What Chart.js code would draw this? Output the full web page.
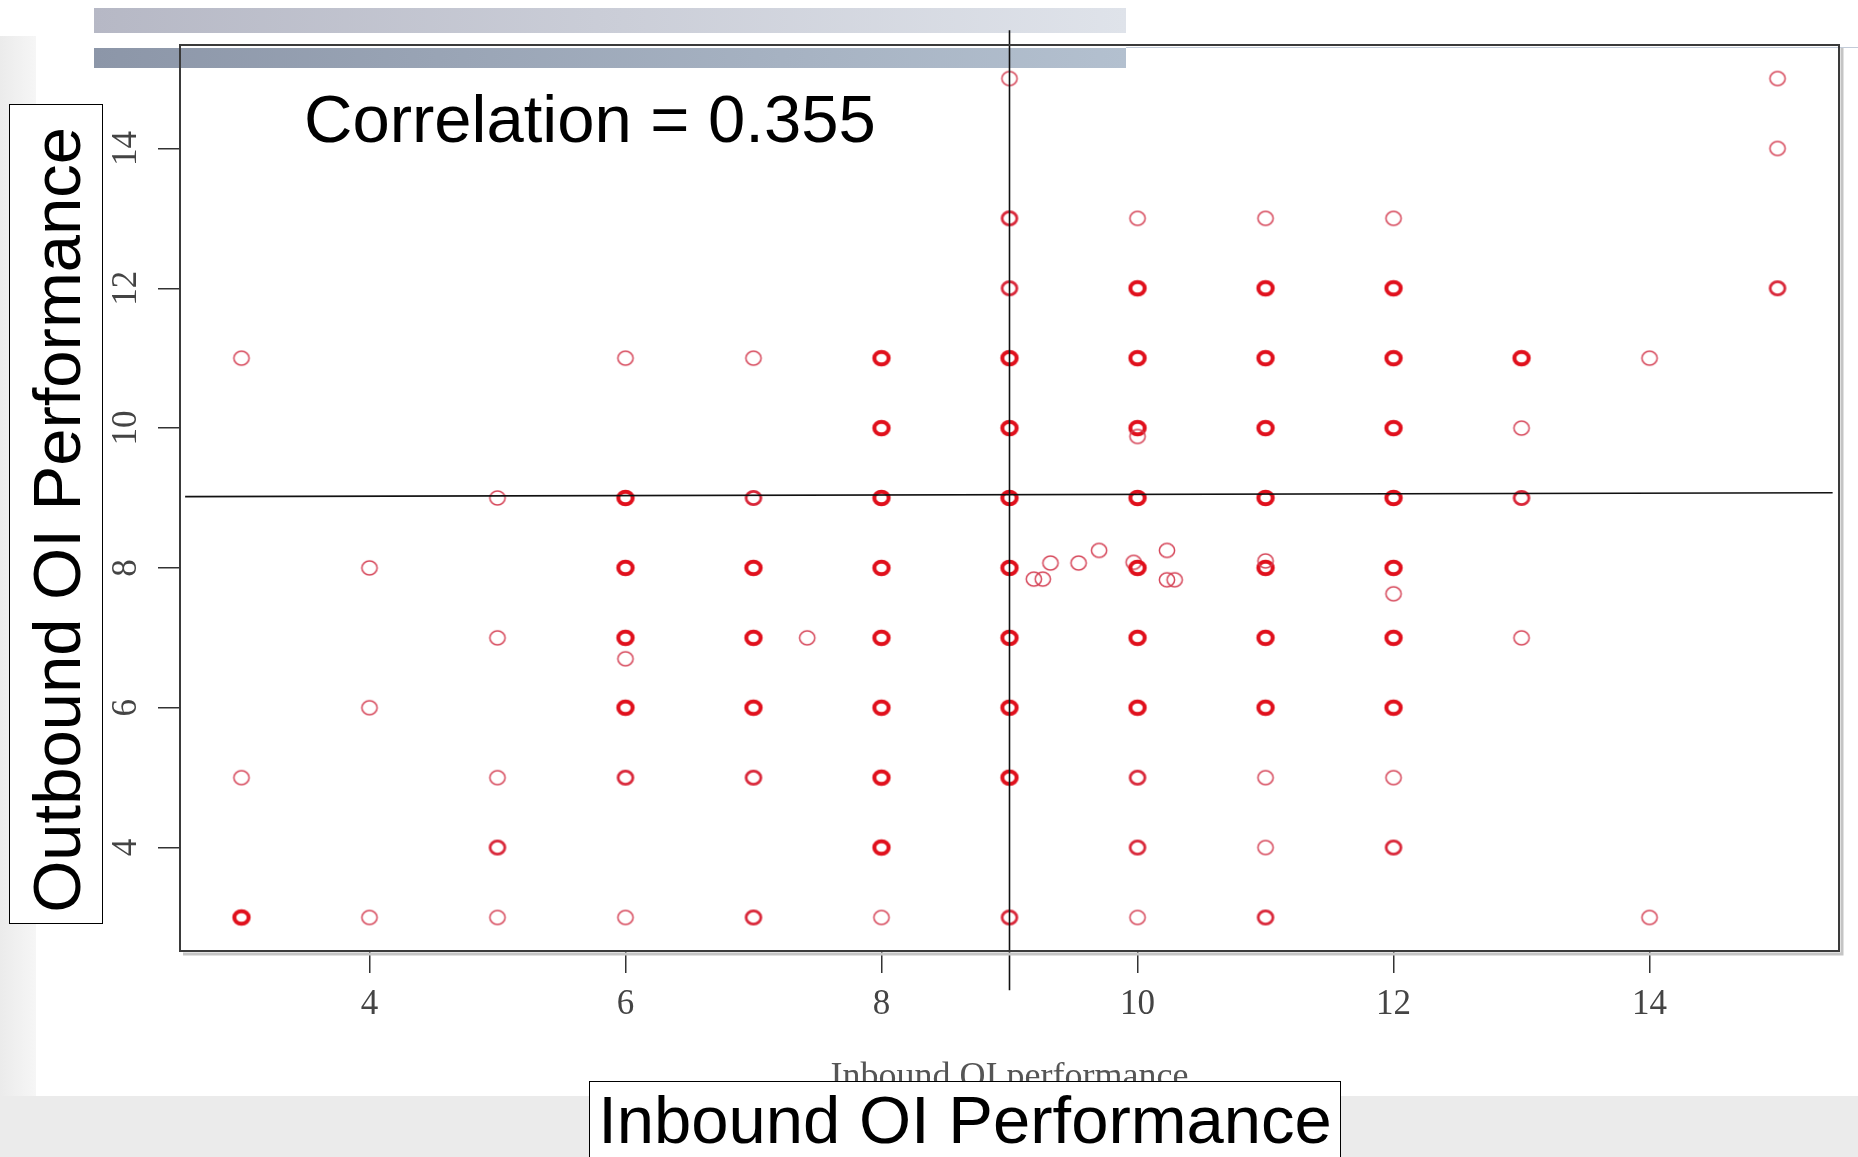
<!DOCTYPE html>
<html>
<head>
<meta charset="utf-8">
<title>Inbound vs Outbound OI Performance</title>
<script src="https://cdn.jsdelivr.net/npm/chart.js@4.4.1/dist/chart.umd.min.js"></script>
<style>
  html, body { margin: 0; padding: 0; }
  body {
    width: 1858px; height: 1157px; position: relative; overflow: hidden;
    background: #fff; font-family: "Liberation Sans", Arial, sans-serif;
  }
  .strip { position: absolute; left: 0; top: 36px; width: 36px; height: 1060px;
           background: linear-gradient(to right, #ebebeb, #f6f6f6); }
  .band  { position: absolute; left: 0; top: 1096px; width: 1858px; height: 61px; background: #ebebeb; }
  .bar1  { position: absolute; left: 94px; top: 8px; width: 1032px; height: 25px;
           background: linear-gradient(to right, #b6b8c5, #dfe3ea); }
  .bar2  { position: absolute; left: 94px; top: 48px; width: 1032px; height: 20px;
           background: linear-gradient(to right, #8c96a8, #b3c0cf); }
  .rule  { position: absolute; left: 1126px; top: 47px; width: 732px; height: 1px; background: #c2cbd8; }
  #wrap  { position: absolute; left: 0; top: 0; width: 1858px; height: 1157px; }
  .ylab  { position: absolute; left: 9px; top: 104px; width: 94px; height: 820px;
           border: 1px solid #000; background: #fff; box-sizing: border-box;
           display: flex; align-items: center; justify-content: center; padding-top: 12px; }
  .ylab span { writing-mode: vertical-rl; transform: rotate(180deg);
               font-size: 67px; line-height: 67px; white-space: nowrap; }
  .xlab  { position: absolute; left: 589px; top: 1081px; width: 752px; height: 110px;
           border: 1px solid #000; background: #fff; box-sizing: border-box;
           text-align: center; font-size: 67px; line-height: 67px; padding-top: 4px; white-space: nowrap; }
  .corr  { position: absolute; left: 304px; top: 85px; font-size: 67px; line-height: 67px; white-space: nowrap; }
</style>
</head>
<body>
<div class="strip"></div>
<div class="band"></div>
<div class="bar1"></div>
<div class="bar2"></div>
<div class="rule"></div>
<div id="wrap"><canvas id="scatterChart"></canvas></div>
<div class="corr">Correlation = 0.355</div>
<div class="ylab"><span>Outbound OI Performance</span></div>
<div class="xlab">Inbound OI Performance</div>

<script>
// scores (x = inbound, y = outbound)
// overlap: 1 = single point, 2 = a few, 3 = many points on the same spot
const inbound = [
  3, 3, 3,
  4, 4, 4,
  5, 5, 5, 5, 5,
  6, 6, 6, 6, 6, 6, 6, 6,
  7, 7, 7, 7, 7, 7, 7, 7.42,
  8, 8, 8, 8, 8, 8, 8, 8, 8,
  9, 9, 9, 9, 9, 9, 9, 9, 9, 9, 9,
  9.19, 9.26, 9.32, 9.54, 9.70, 9.97, 10.23, 10.23, 10.29,
  10, 10, 10, 10, 10, 10, 10, 10, 10, 10, 10, 10,
  11, 11, 11, 11, 11, 11, 11, 11, 11, 11, 11, 11,
  12, 12, 12, 12, 12, 12, 12, 12, 12, 12, 12,
  13, 13, 13, 13,
  14, 14,
  15, 15, 15
];
const outbound = [
  11, 5, 3,
  8, 6, 3,
  9, 7, 5, 4, 3,
  11, 9, 8, 7, 6.7, 6, 5, 3,
  11, 9, 8, 7, 6, 5, 3, 7,
  11, 10, 9, 8, 7, 6, 5, 4, 3,
  15, 13, 12, 11, 10, 9, 8, 7, 6, 5, 3,
  7.84, 7.84, 8.07, 8.07, 8.25, 8.08, 8.25, 7.83, 7.83,
  13, 12, 11, 10, 9.88, 9, 8, 7, 6, 5, 4, 3,
  13, 12, 11, 10, 9, 8, 8.1, 7, 6, 5, 4, 3,
  13, 12, 11, 10, 9, 8, 7.63, 7, 6, 5, 4,
  11, 10, 9, 7,
  11, 3,
  15, 14, 12
];
const overlap = [
  1, 1, 3,
  1, 1, 1,
  1, 1, 1, 2, 1,
  1, 3, 3, 3, 1, 3, 2, 1,
  1, 2, 3, 3, 3, 2, 2, 1,
  3, 3, 3, 3, 3, 3, 3, 3, 1,
  1, 2, 2, 3, 3, 3, 3, 3, 3, 3, 2,
  1, 1, 1, 1, 1, 1, 1, 1, 1,
  1, 3, 3, 3, 1, 3, 3, 3, 3, 2, 2, 1,
  1, 3, 3, 3, 3, 3, 1, 3, 3, 1, 1, 2,
  1, 3, 3, 3, 3, 3, 1, 3, 3, 1, 2,
  3, 1, 2, 1,
  1, 1,
  1, 1, 2
];

// mean lines (vertical at inbound 9, near-horizontal at outbound ~9.05)
const vLineX = [9, 9];
const vLineY = [1.96, 15.69];
const hLineX = [2.56, 15.43];
const hLineY = [9.02, 9.075];

const xTicks = [4, 6, 8, 10, 12, 14];
const yTicks = [4, 6, 8, 10, 12, 14];
const axisMin = 2.52;
const axisMax = 15.48;

// R style open rings, slightly wider than tall like the pasted plot
function makeRing(lw, color, rx, ry) {
  const c = document.createElement("canvas");
  c.width = 24; c.height = 22;
  const g = c.getContext("2d");
  g.strokeStyle = color;
  g.lineWidth = lw;
  g.beginPath();
  g.ellipse(12, 11, rx - lw / 2, ry - lw / 2, 0, 0, Math.PI * 2);
  g.stroke();
  return c;
}
const rings = {
  1: makeRing(1.5, "rgba(212,62,82,0.95)", 8.4, 7.7),
  2: makeRing(2.8, "#d9283a", 8.8, 8.0),
  3: makeRing(4.0, "#e0101c", 9.2, 8.3)
};

const points = inbound.map((x, i) => ({ x: x, y: outbound[i] }));
const toXY = (xs, ys) => xs.map((x, i) => ({ x: x, y: ys[i] }));

// box around the plot region, with the soft shadow of the pasted picture
const plotBox = {
  id: "plotBox",
  afterDatasetsDraw(chart) {
    const { ctx, chartArea: a } = chart;
    ctx.save();
    ctx.strokeStyle = "#c4c4c4";
    ctx.lineWidth = 3;
    ctx.beginPath();
    ctx.moveTo(a.right + 3, a.top + 3);
    ctx.lineTo(a.right + 3, a.bottom + 3);
    ctx.lineTo(a.left + 3, a.bottom + 3);
    ctx.stroke();
    ctx.strokeStyle = "#3a3a3a";
    ctx.lineWidth = 2;
    ctx.strokeRect(a.left, a.top, a.right - a.left, a.bottom - a.top);
    ctx.restore();
  }
};

const serif = "'Liberation Serif', 'Times New Roman', serif";

new Chart(document.getElementById("scatterChart"), {
  type: "scatter",
  data: {
    datasets: [
      {
        label: "inbound mean",
        data: toXY(vLineX, vLineY),
        showLine: true,
        borderColor: "#111",
        borderWidth: 1.6,
        pointRadius: 0,
        clip: false
      },
      {
        label: "outbound mean",
        data: toXY(hLineX, hLineY),
        showLine: true,
        borderColor: "#111",
        borderWidth: 1.6,
        pointRadius: 0,
        clip: false
      },
      {
        label: "firms",
        data: points,
        pointRadius: 8,
        pointStyle: (c) => rings[overlap[c.dataIndex]] || rings[1]
      }
    ]
  },
  options: {
    responsive: true,
    maintainAspectRatio: false,
    animation: false,
    events: [],
    layout: { padding: { left: 0, top: 45, right: 19, bottom: 56 } },
    plugins: {
      legend: { display: false },
      tooltip: { enabled: false }
    },
    scales: {
      x: {
        type: "linear",
        min: axisMin,
        max: axisMax,
        afterBuildTicks: (s) => { s.ticks = xTicks.map((v) => ({ value: v })); },
        afterFit: (s) => { s.height = 150; },
        border: { display: false },
        grid: { drawOnChartArea: false, drawTicks: true, tickLength: 22,
                color: "#333", tickColor: "#333", lineWidth: 1.5 },
        ticks: { color: "#444", font: { family: serif, size: 35 }, padding: 11, maxRotation: 0 },
        title: {
          display: true,
          text: "Inbound OI performance",
          color: "#555",
          font: { family: serif, size: 36 },
          padding: { top: 0, bottom: 2 }
        }
      },
      y: {
        type: "linear",
        min: axisMin,
        max: axisMax,
        afterBuildTicks: (s) => { s.ticks = yTicks.map((v) => ({ value: v })); },
        afterFit: (s) => { s.width = 180; },
        border: { display: false },
        grid: { drawOnChartArea: false, drawTicks: true, tickLength: 22,
                color: "#333", tickColor: "#333", lineWidth: 1.5 },
        ticks: { color: "#444", font: { family: serif, size: 35 }, padding: 14,
                 minRotation: 90, maxRotation: 90, crossAlign: "center" }
      }
    }
  },
  plugins: [plotBox]
});
</script>
</body>
</html>
